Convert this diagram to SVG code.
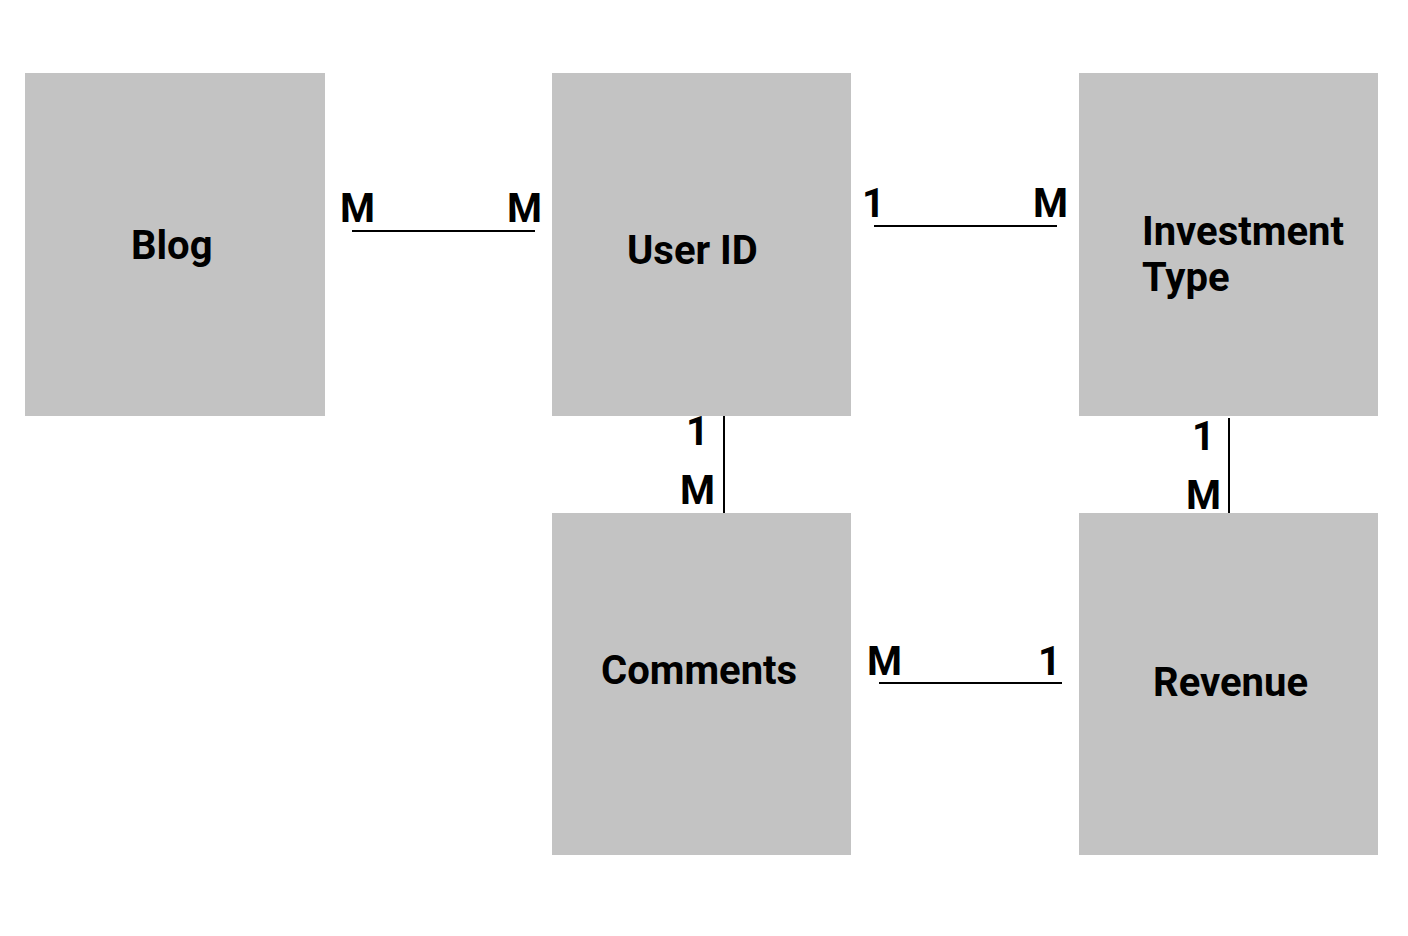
<svg xmlns="http://www.w3.org/2000/svg" width="1408" height="936" viewBox="0 0 1408 936">
<style>
.box{fill:#c3c3c3}
.t{font-family:Roboto,"Liberation Sans",sans-serif;font-weight:bold;font-size:40px;fill:#000}
.c{font-family:Roboto,"Liberation Sans",sans-serif;font-weight:bold;font-size:40px;fill:#000}
.ln{stroke:#000;stroke-width:2;fill:none}
</style>
<rect width="1408" height="936" fill="#fff"/>
<g id="blog"><rect class="box" x="25" y="73" width="300" height="343"/><text class="t" x="131" y="259">Blog</text></g>
<g id="userid"><rect class="box" x="552" y="73" width="299" height="343"/><text class="t" x="627" y="264">User ID</text></g>
<g id="investment"><rect class="box" x="1079" y="73" width="299" height="343"/><text class="t" x="1142" y="245">Investment</text><text class="t" x="1142" y="291">Type</text></g>
<g id="comments"><rect class="box" x="552" y="513" width="299" height="342"/><text class="t" x="601" y="684">Comments</text></g>
<g id="revenue"><rect class="box" x="1079" y="513" width="299" height="342"/><text class="t" x="1153" y="696">Revenue</text></g>
<g id="connectors">
<line class="ln" x1="352" y1="231" x2="535" y2="231"/>
<line class="ln" x1="874" y1="226" x2="1057" y2="226"/>
<line class="ln" x1="724" y1="416" x2="724" y2="513"/>
<line class="ln" x1="1229" y1="418" x2="1229" y2="513"/>
<line class="ln" x1="879" y1="683" x2="1062" y2="683"/>
<text class="c" x="340" y="222">M</text>
<text class="c" x="507" y="222">M</text>
<text class="c" x="862" y="217">1</text>
<text class="c" x="1033" y="217">M</text>
<text class="c" x="686" y="445">1</text>
<text class="c" x="680" y="504">M</text>
<text class="c" x="1192" y="450">1</text>
<text class="c" x="1186" y="509">M</text>
<text class="c" x="867" y="675">M</text>
<text class="c" x="1038" y="675">1</text>
</g>
</svg>
